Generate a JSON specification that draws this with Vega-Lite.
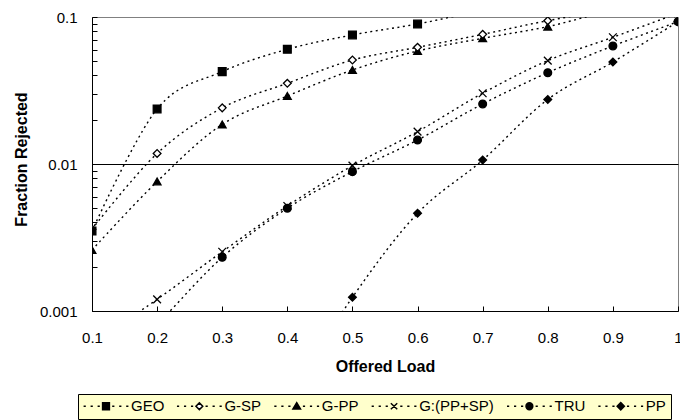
{
  "$schema": "https://vega.github.io/schema/vega-lite/v6.json",
  "width": 586,
  "height": 294,
  "autosize": {"type": "none"},
  "padding": {"left": 92, "top": 17, "right": 2, "bottom": 109},
  "config": {"view": {"stroke": "#808080", "strokeWidth": 1}, "font": "Liberation Sans"},
  "data": {"values": [
    {"series": "PP", "load": 0.3, "frac": 0.00006},
    {"series": "PP", "load": 0.4, "frac": 0.00025},
    {"series": "PP", "load": 0.5, "frac": 0.00124},
    {"series": "PP", "load": 0.6, "frac": 0.00462},
    {"series": "PP", "load": 0.7, "frac": 0.01064},
    {"series": "PP", "load": 0.8, "frac": 0.0275},
    {"series": "PP", "load": 0.9, "frac": 0.0494},
    {"series": "PP", "load": 1.0, "frac": 0.093},
    {"series": "TRU", "load": 0.1, "frac": 0.0003},
    {"series": "TRU", "load": 0.2, "frac": 0.00081},
    {"series": "TRU", "load": 0.3, "frac": 0.00232},
    {"series": "TRU", "load": 0.4, "frac": 0.005},
    {"series": "TRU", "load": 0.5, "frac": 0.00887},
    {"series": "TRU", "load": 0.6, "frac": 0.01456},
    {"series": "TRU", "load": 0.7, "frac": 0.0256},
    {"series": "TRU", "load": 0.8, "frac": 0.0418},
    {"series": "TRU", "load": 0.9, "frac": 0.0635},
    {"series": "TRU", "load": 1.0, "frac": 0.093},
    {"series": "G:(PP+SP)", "load": 0.1, "frac": 0.0006},
    {"series": "G:(PP+SP)", "load": 0.2, "frac": 0.0012},
    {"series": "G:(PP+SP)", "load": 0.3, "frac": 0.00253},
    {"series": "G:(PP+SP)", "load": 0.4, "frac": 0.00518},
    {"series": "G:(PP+SP)", "load": 0.5, "frac": 0.00974},
    {"series": "G:(PP+SP)", "load": 0.6, "frac": 0.0166},
    {"series": "G:(PP+SP)", "load": 0.7, "frac": 0.0303},
    {"series": "G:(PP+SP)", "load": 0.8, "frac": 0.0505},
    {"series": "G:(PP+SP)", "load": 0.9, "frac": 0.0728},
    {"series": "G:(PP+SP)", "load": 1.0, "frac": 0.106},
    {"series": "G-PP", "load": 0.1, "frac": 0.0026},
    {"series": "G-PP", "load": 0.2, "frac": 0.0076},
    {"series": "G-PP", "load": 0.3, "frac": 0.0186},
    {"series": "G-PP", "load": 0.4, "frac": 0.029},
    {"series": "G-PP", "load": 0.5, "frac": 0.0436},
    {"series": "G-PP", "load": 0.6, "frac": 0.0587},
    {"series": "G-PP", "load": 0.7, "frac": 0.0716},
    {"series": "G-PP", "load": 0.8, "frac": 0.086},
    {"series": "G-PP", "load": 0.9, "frac": 0.11},
    {"series": "G-PP", "load": 1.0, "frac": 0.12},
    {"series": "G-SP", "load": 0.1, "frac": 0.0036},
    {"series": "G-SP", "load": 0.2, "frac": 0.0118},
    {"series": "G-SP", "load": 0.3, "frac": 0.0241},
    {"series": "G-SP", "load": 0.4, "frac": 0.0354},
    {"series": "G-SP", "load": 0.5, "frac": 0.051},
    {"series": "G-SP", "load": 0.6, "frac": 0.0622},
    {"series": "G-SP", "load": 0.7, "frac": 0.0762},
    {"series": "G-SP", "load": 0.8, "frac": 0.0944},
    {"series": "G-SP", "load": 0.9, "frac": 0.112},
    {"series": "G-SP", "load": 1.0, "frac": 0.124},
    {"series": "GEO", "load": 0.1, "frac": 0.0035},
    {"series": "GEO", "load": 0.2, "frac": 0.0237},
    {"series": "GEO", "load": 0.3, "frac": 0.0425},
    {"series": "GEO", "load": 0.4, "frac": 0.0603},
    {"series": "GEO", "load": 0.5, "frac": 0.0755},
    {"series": "GEO", "load": 0.6, "frac": 0.0896},
    {"series": "GEO", "load": 0.7, "frac": 0.11},
    {"series": "GEO", "load": 0.8, "frac": 0.122},
    {"series": "GEO", "load": 0.9, "frac": 0.132},
    {"series": "GEO", "load": 1.0, "frac": 0.142}
  ]},
  "encoding": {
    "x": {
      "field": "load", "type": "quantitative",
      "scale": {"domain": [0.1, 1], "nice": false, "zero": false},
      "axis": {
        "values": [0.1, 0.2, 0.3, 0.4, 0.5, 0.6, 0.7, 0.8, 0.9, 1],
        "format": ".1~f",
        "grid": false,
        "tickSize": -5, "tickColor": "black", "domainColor": "black",
        "labelFont": "Liberation Sans", "labelFontSize": 15, "labelColor": "black",
        "labelPadding": 24, "labelFlush": false, "labelOverlap": false,
        "title": "Offered Load", "titleFont": "Liberation Sans", "titleFontSize": 16,
        "titleFontWeight": "bold", "titleColor": "black", "titleX": 293, "titleY": 47
      }
    },
    "y": {
      "field": "frac", "type": "quantitative",
      "scale": {"type": "log", "domain": [0.001, 0.1], "nice": false},
      "axis": {
        "values": [0.001, 0.002, 0.003, 0.004, 0.005, 0.006, 0.007, 0.008, 0.009, 0.01, 0.02, 0.03, 0.04, 0.05, 0.06, 0.07, 0.08, 0.09, 0.1],
        "labelExpr": "datum.value === 0.1 ? '0.1' : datum.value === 0.01 ? '0.01' : datum.value === 0.001 ? '0.001' : ''",
        "grid": true, "gridColor": "black",
        "gridOpacity": {"condition": {"test": "datum.value === 0.01", "value": 1}, "value": 0},
        "tickSize": -5, "tickColor": "black", "domainColor": "black",
        "labelFont": "Liberation Sans", "labelFontSize": 15, "labelColor": "black",
        "labelPadding": 20, "labelFlush": false, "labelOverlap": false,
        "title": "Fraction Rejected", "titleFont": "Liberation Sans", "titleFontSize": 16,
        "titleFontWeight": "bold", "titleColor": "black", "titleX": -63, "titleY": 142
      }
    }
  },
  "layer": [
    {
      "mark": {"type": "line", "interpolate": "cardinal", "tension": 0, "clip": true, "color": "black", "strokeWidth": 1.4, "strokeDash": [2, 3.5]},
      "encoding": {"detail": {"field": "series"}}
    },
    {
      "mark": {"type": "point", "clip": true, "filled": true, "stroke": "black", "strokeWidth": 1.3, "size": 60, "opacity": 1},
      "encoding": {
        "shape": {"field": "series", "type": "nominal", "legend": null,
          "scale": {"domain": ["GEO", "G-SP", "G-PP", "G:(PP+SP)", "TRU", "PP"],
                    "range": ["square", "diamond", "triangle-up", "M-1,-1L1,1M-1,1L1,-1", "circle", "diamond"]}},
        "fill": {"field": "series", "type": "nominal", "legend": null,
          "scale": {"domain": ["GEO", "G-SP", "G-PP", "G:(PP+SP)", "TRU", "PP"],
                    "range": ["black", "white", "black", "black", "black", "black"]}}
      }
    },
    {
      "transform": [{"filter": "datum.frac < 0"}],
      "mark": {"type": "point", "clip": true, "filled": true, "stroke": "black", "strokeWidth": 1.4, "size": 64, "opacity": 1},
      "encoding": {
        "shape": {"field": "series", "type": "nominal",
          "scale": {"domain": ["GEO", "G-SP", "G-PP", "G:(PP+SP)", "TRU", "PP"],
                    "range": [
                      "M-1.6,0L-1.05,0M0.15,0L0.7,0M1.9,0L2.45,0M5.55,0L6.1,0M7.3,0L7.85,0M9.05,0L9.6,0M3.15,-0.85L4.85,-0.85L4.85,0.85L3.15,0.85Z",
                      "M-1.6,0L-1.05,0M0.15,0L0.7,0M1.9,0L2.45,0M5.55,0L6.1,0M7.3,0L7.85,0M9.05,0L9.6,0M4,-0.85L4.85,0L4,0.85L3.15,0Z",
                      "M-1.6,0L-1.05,0M0.15,0L0.7,0M1.9,0L2.45,0M5.55,0L6.1,0M7.3,0L7.85,0M9.05,0L9.6,0M4,-0.9L4.95,0.7L3.05,0.7Z",
                      "M-1.6,0L-1.05,0M0.15,0L0.7,0M1.9,0L2.45,0M5.55,0L6.1,0M7.3,0L7.85,0M9.05,0L9.6,0M3.2,-0.75L4.8,0.75M3.2,0.75L4.8,-0.75",
                      "M-1.6,0L-1.05,0M0.15,0L0.7,0M1.9,0L2.45,0M5.55,0L6.1,0M7.3,0L7.85,0M9.05,0L9.6,0M3.15,0A0.85,0.85,0,1,0,4.85,0A0.85,0.85,0,1,0,3.15,0Z",
                      "M-1.6,0L-1.05,0M0.15,0L0.7,0M1.9,0L2.45,0M5.55,0L6.1,0M7.3,0L7.85,0M9.05,0L9.6,0M4,-0.9L4.9,0L4,0.9L3.1,0Z"
                    ]},
          "legend": {
            "title": null, "orient": "none", "legendX": -14, "legendY": 377,
            "direction": "horizontal", "columns": 6,
            "fillColor": "#FFFFCC", "strokeColor": "black", "padding": 4.5,
            "symbolSize": 64, "labelFont": "Liberation Sans", "labelFontSize": 15, "labelColor": "black",
            "labelOffset": 33.6, "columnPadding": 9.35, "rowPadding": 0,
            "encode": {"symbols": {"update": {"stroke": {"value": "black"}, "strokeWidth": {"value": 1.5}, "opacity": {"value": 1}}}}
          }
        },
        "fill": {"field": "series", "type": "nominal",
          "scale": {"domain": ["GEO", "G-SP", "G-PP", "G:(PP+SP)", "TRU", "PP"],
                    "range": ["black", "white", "black", "black", "black", "black"]}}
      }
    }
  ],
  "resolve": {"scale": {"shape": "independent", "fill": "independent"}}
}
